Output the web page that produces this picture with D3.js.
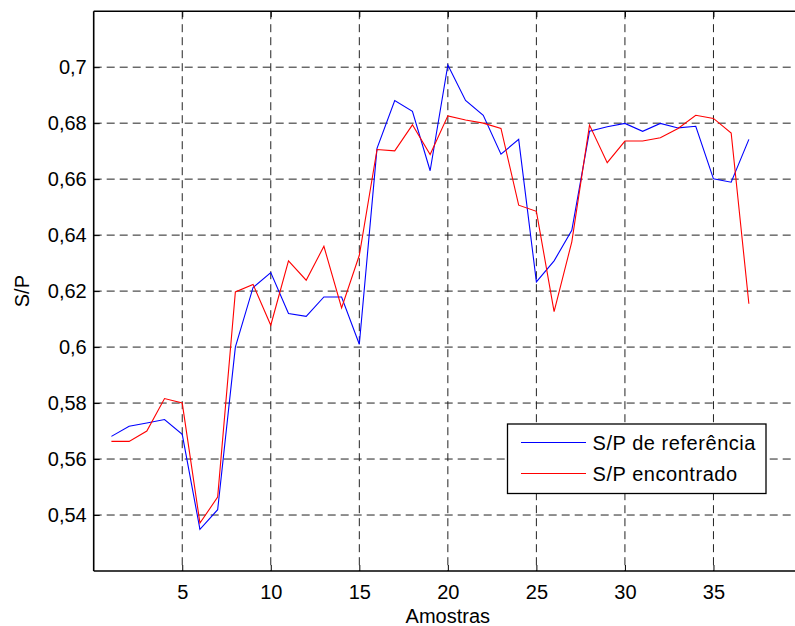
<!DOCTYPE html>
<html>
<head>
<meta charset="utf-8">
<script src="https://cdn.jsdelivr.net/npm/d3@7"></script>
<style>
  html, body { margin: 0; padding: 0; background: #fff; }
  svg { display: block; }
  text { font-family: "Liberation Sans", Arial, sans-serif; }
</style>
</head>
<body>
<svg id="chart" width="795" height="626"></svg>
<script>
const amostras = d3.range(1, 38);
const spReferencia = [
  0.5681, 0.5717, 0.5729, 0.5741, 0.5688, 0.5349, 0.5419, 0.6000, 0.6213, 0.6266,
  0.6120, 0.6110, 0.6179, 0.6179, 0.6010, 0.6710, 0.6881, 0.6842, 0.6630, 0.7008,
  0.6881, 0.6828, 0.6689, 0.6742, 0.6233, 0.6308, 0.6417, 0.6771, 0.6787, 0.6799,
  0.6771, 0.6799, 0.6783, 0.6789, 0.6601, 0.6589, 0.6742
];
const spEncontrado = [
  0.5663, 0.5663, 0.5700, 0.5816, 0.5800, 0.5371, 0.5464, 0.6197, 0.6224, 0.6078,
  0.6308, 0.6239, 0.6360, 0.6140, 0.6328, 0.6706, 0.6701, 0.6794, 0.6688, 0.6826,
  0.6811, 0.6800, 0.6781, 0.6507, 0.6485, 0.6127, 0.6376, 0.6793, 0.6659, 0.6736,
  0.6736, 0.6748, 0.6781, 0.6828, 0.6817, 0.6765, 0.6155
];
const xTicks = [5, 10, 15, 20, 25, 30, 35];
const yTicks = [0.54, 0.56, 0.58, 0.6, 0.62, 0.64, 0.66, 0.68, 0.7];
const seriesNames = ["S/P de referência", "S/P encontrado"];
const seriesColors = ["#0000ff", "#ff0000"];

const svg = d3.select("#chart");
const pL = 93.7, pR = 802, pT = 11.2, pB = 571;

const x = d3.scaleLinear().domain([0, 40]).range([pL, pR]);
const y = d3.scaleLinear().domain([0.52, 0.72]).range([pB, pT]);

const fmt = v => String(+v.toFixed(2)).replace(".", ",");

// grid
const grid = svg.append("g");
grid.selectAll("line.gx").data(xTicks).join("line")
  .attr("x1", d => x(d)).attr("x2", d => x(d))
  .attr("y1", pT).attr("y2", pB)
  .attr("stroke", "#222").attr("stroke-width", 1).attr("stroke-dasharray", "8,5");
grid.selectAll("line.gy").data(yTicks).join("line")
  .attr("x1", pL).attr("x2", pR)
  .attr("y1", d => y(d)).attr("y2", d => y(d))
  .attr("stroke", "#222").attr("stroke-width", 1).attr("stroke-dasharray", "8,5");

// lines
const line = d3.line().x((d, i) => x(amostras[i])).y(d => y(d));
[spReferencia, spEncontrado].forEach((s, k) => {
  svg.append("path").datum(s)
    .attr("d", line)
    .attr("fill", "none")
    .attr("stroke", seriesColors[k])
    .attr("stroke-width", 1.1);
});

// axes (MATLAB style: inward ticks)
const xAxis = d3.axisBottom(x).tickValues(xTicks).tickSize(-6).tickPadding(14).tickFormat(d => d);
const gx = svg.append("g").attr("transform", `translate(0,${pB})`).call(xAxis);
gx.select(".domain").remove();
gx.selectAll("text").attr("font-size", 20).attr("fill", "#000")
  .attr("font-family", "Liberation Sans, Arial, sans-serif");
gx.selectAll("line").attr("stroke", "#000");

const xAxisTop = d3.axisTop(x).tickValues(xTicks).tickSize(-6).tickFormat("");
const gxt = svg.append("g").attr("transform", `translate(0,${pT})`).call(xAxisTop);
gxt.select(".domain").remove();
gxt.selectAll("line").attr("stroke", "#000");

const yAxis = d3.axisLeft(y).tickValues(yTicks).tickSize(-6).tickPadding(7).tickFormat(fmt);
const gy = svg.append("g").attr("transform", `translate(${pL},0)`).call(yAxis);
gy.select(".domain").remove();
gy.selectAll("text").attr("font-size", 20).attr("fill", "#000")
  .attr("font-family", "Liberation Sans, Arial, sans-serif");
gy.selectAll("line").attr("stroke", "#000");

// frame
svg.append("line").attr("x1", pL).attr("x2", pR).attr("y1", pB).attr("y2", pB)
  .attr("stroke", "#000").attr("stroke-width", 1.6);
svg.append("line").attr("x1", pL).attr("x2", pR).attr("y1", pT).attr("y2", pT)
  .attr("stroke", "#000").attr("stroke-width", 1.6);
svg.append("line").attr("x1", pL).attr("x2", pL).attr("y1", pT).attr("y2", pB)
  .attr("stroke", "#000").attr("stroke-width", 1.6);

// axis labels
svg.append("text").attr("x", (pL + pR) / 2).attr("y", 623)
  .attr("text-anchor", "middle").attr("font-size", 20).text("Amostras");
svg.append("text")
  .attr("transform", `translate(29,${(pT + pB) / 2}) rotate(-90)`)
  .attr("text-anchor", "middle").attr("font-size", 20).text("S/P");

// legend
const lg = svg.append("g");
lg.append("rect").attr("x", 507.5).attr("y", 424).attr("width", 258.5).attr("height", 69.5)
  .attr("fill", "#fff").attr("stroke", "#000").attr("stroke-width", 1.3);
seriesNames.forEach((n, k) => {
  const ly = 442.5 + k * 31;
  lg.append("line").attr("x1", 521).attr("x2", 586).attr("y1", ly).attr("y2", ly)
    .attr("stroke", seriesColors[k]).attr("stroke-width", 1.1);
  lg.append("text").attr("x", 592.5).attr("y", ly + 7).attr("font-size", 20)
    .attr("letter-spacing", 0.55).text(n);
});
</script>
</body>
</html>
